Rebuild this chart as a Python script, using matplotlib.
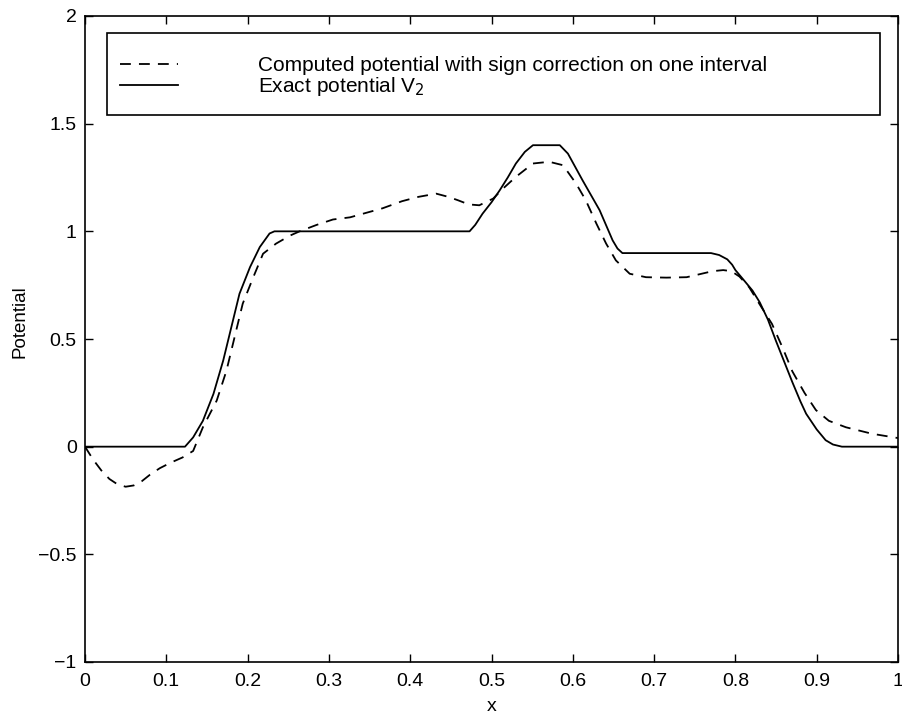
import matplotlib
matplotlib.use("Agg")
import matplotlib.pyplot as plt
from matplotlib.patches import Rectangle

plt.rcParams['font.family'] = ['Liberation Sans', 'DejaVu Sans']

exact_x = [0, 0.123, 0.133, 0.145, 0.158, 0.170, 0.180, 0.190, 0.203, 0.215, 0.227, 0.233,
           0.473, 0.480, 0.489, 0.50, 0.51, 0.52, 0.530, 0.541, 0.551, 0.584, 0.594,
           0.612, 0.633, 0.649, 0.655, 0.661, 0.77, 0.78, 0.79, 0.796, 0.80,
           0.81, 0.821, 0.83, 0.84, 0.85, 0.858, 0.87, 0.88, 0.887, 0.90, 0.911, 0.92, 0.931, 1.0]
exact_y = [0, 0, 0.043, 0.12, 0.245, 0.40, 0.555, 0.71, 0.834, 0.927, 0.99, 1.0,
           1.0, 1.03, 1.082, 1.135, 1.19, 1.25, 1.315, 1.369, 1.40, 1.40, 1.361,
           1.237, 1.098, 0.958, 0.92, 0.899, 0.899, 0.89, 0.87, 0.845, 0.82,
           0.775, 0.725, 0.67, 0.59, 0.49, 0.414, 0.30, 0.21, 0.153, 0.08, 0.03, 0.01, 0, 0]

comp_x = [0, 0.01, 0.02, 0.03, 0.04, 0.05, 0.06, 0.07, 0.08, 0.092, 0.105, 0.12, 0.133,
          0.145, 0.162, 0.174, 0.186, 0.194, 0.207, 0.219, 0.235, 0.252, 0.264,
          0.285, 0.305, 0.326, 0.345, 0.366, 0.39, 0.41, 0.432, 0.447, 0.459, 0.472, 0.485,
          0.502, 0.514, 0.530, 0.551, 0.571, 0.588, 0.604, 0.616, 0.629,
          0.641, 0.653, 0.670, 0.690, 0.715, 0.74, 0.755, 0.772, 0.785, 0.795,
          0.805, 0.817, 0.83, 0.845, 0.858, 0.87, 0.885, 0.899, 0.915, 0.936, 0.968, 1.0]
comp_y = [0, -0.06, -0.11, -0.15, -0.175, -0.186, -0.18, -0.16, -0.13, -0.10, -0.075, -0.05,
          -0.02, 0.09, 0.214, 0.353, 0.54, 0.664, 0.787, 0.896, 0.943, 0.98, 1.0,
          1.03, 1.055, 1.065, 1.085, 1.107, 1.14, 1.16, 1.175, 1.16, 1.144, 1.125, 1.121,
          1.152, 1.198, 1.253, 1.315, 1.323, 1.307, 1.222, 1.144, 1.036,
          0.943, 0.865, 0.803, 0.787, 0.785, 0.787, 0.80, 0.815, 0.82, 0.815,
          0.79, 0.74, 0.66, 0.57, 0.46, 0.35, 0.25, 0.17, 0.12, 0.09, 0.06, 0.04]

x_ticks = [0, 0.1, 0.2, 0.3, 0.4, 0.5, 0.6, 0.7, 0.8, 0.9, 1]
x_ticklabels = ['0', '0.1', '0.2', '0.3', '0.4', '0.5', '0.6', '0.7', '0.8', '0.9', '1']
y_ticks = [-1, -0.5, 0, 0.5, 1, 1.5, 2]
y_ticklabels = ['\u22121', '\u22120.5', '0', '0.5', '1', '1.5', '2']

W, H = 902, 715
L, R, T, B = 85, 898, 16, 662
fig = plt.figure(figsize=(W / 100, H / 100), dpi=100)
ax = fig.add_axes([L / W, 1 - B / H, (R - L) / W, (B - T) / H])

ax.plot(comp_x, comp_y, color='black', lw=1.3, linestyle=(0, (6, 4.5)),
        label='Computed potential with sign correction on one interval')
ax.plot(exact_x, exact_y, color='black', lw=1.3, label='Exact potential V$_2$')

ax.set_xlim(0, 1)
ax.set_ylim(-1, 2)
ax.set_xticks(x_ticks)
ax.set_xticklabels(x_ticklabels)
ax.set_yticks(y_ticks)
ax.set_yticklabels(y_ticklabels)
ax.tick_params(direction='in', top=True, right=True, length=6, width=1, labelsize=14)
ax.tick_params(axis='x', pad=8)
ax.tick_params(axis='y', pad=6)
for s in ax.spines.values():
    s.set_linewidth(1.2)

ax.set_xlabel('x', fontsize=14, labelpad=6)
ax.set_ylabel('Potential', fontsize=13.5)
ax.yaxis.set_label_coords((28 - L) / (R - L), (B - 322) / (B - T))

def ax_frac(px, py):
    return (px - L) / (R - L), (B - py) / (B - T)

# legend box
x0, y1 = ax_frac(107, 33)
x1, y0 = ax_frac(880, 115)
ax.add_patch(Rectangle((x0, y0), x1 - x0, y1 - y0, transform=ax.transAxes,
                       facecolor='white', edgecolor='black', lw=1.2, zorder=5))

ax_, ay_ = ax_frac(120, 56)
leg = ax.legend(loc='upper left', bbox_to_anchor=(ax_, ay_), frameon=False,
                fontsize=15, handlelength=2.8, handletextpad=3.8, borderpad=0,
                labelspacing=0.0, borderaxespad=0)
leg.set_zorder(6)

fig.savefig('out.png', dpi=100)
